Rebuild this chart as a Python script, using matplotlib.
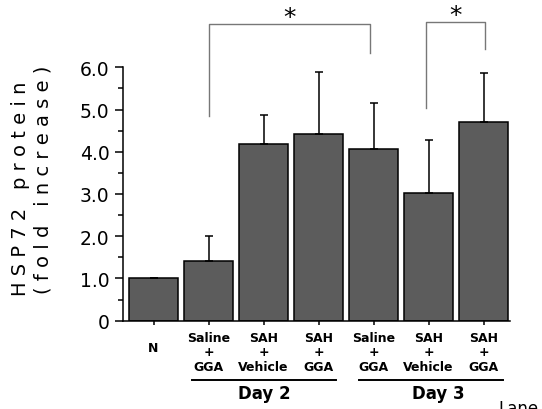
import numpy as np
import matplotlib.pyplot as plt

# data
groups = ['N', 'Saline\n+\nGGA', 'SAH\n+\nVehicle', 'SAH\n+\nGGA',
          'Saline\n+\nGGA', 'SAH\n+\nVehicle', 'SAH\n+\nGGA']
means = [1.0, 1.42, 4.18, 4.43, 4.06, 3.03, 4.71]
upper = [1.0, 2.0, 4.87, 5.90, 5.15, 4.27, 5.86]
yticks = [0, 1, 2, 3, 4, 5, 6]
ytick_labels = ['0', '1.0', '2.0', '3.0', '4.0', '5.0', '6.0']

# significance brackets: (x left, x right, left foot, right foot, top)
brackets = [(1.0, 3.94, 4.84, 6.34, 7.03),
            (4.95, 6.03, 5.03, 6.43, 7.08)]

# day groups: (label, line start, line end, label x)
days = [('Day 2', 0.69, 3.31, 2.02),
        ('Day 3', 3.74, 6.36, 5.17)]

x = np.arange(len(means))
err = np.array(upper) - np.array(means)

fig = plt.figure(figsize=(5.42, 4.10), dpi=100)
ax = fig.add_axes([0.2275, 0.2154, 0.941 - 0.2275, 0.8334 - 0.2154])

ax.bar(x, means, width=0.885, color='#5c5c5c', edgecolor='black', linewidth=1.1,
       yerr=[np.zeros(len(err)), err], capsize=3, error_kw=dict(elinewidth=1.1, capthick=1.1, ecolor='black'))

ax.set_xlim(-0.55, 6.48)
ax.set_ylim(0, 6)
ax.spines['top'].set_visible(False)
ax.spines['right'].set_visible(False)
ax.spines['left'].set_linewidth(1.1)
ax.spines['bottom'].set_linewidth(1.1)

ax.set_yticks(yticks)
ax.set_yticklabels(ytick_labels, fontsize=13.5)
ax.set_yticks(np.arange(0.5, 6, 1.0), minor=True)
ax.tick_params(axis='y', which='major', length=6, width=1.1, pad=4)
ax.tick_params(axis='y', which='minor', length=3.5, width=1.1)
ax.set_xticks(x)
ax.set_xticklabels([])
ax.tick_params(axis='x', length=3, width=1.1)

# category labels under bars
tr = ax.get_xaxis_transform()
for i, g in enumerate(groups):
    yy = -0.104 if g == 'N' else -0.1235
    ax.text(x[i], yy, g, transform=tr, ha='center', va='center',
            fontsize=9, fontweight='bold', linespacing=1.15)

for label, x0, x1, xt in days:
    ax.plot([x0, x1], [-0.234, -0.234], transform=tr, color='black', lw=1.4, clip_on=False)
    ax.text(xt, -0.285, label, transform=tr, ha='center', va='center',
            fontsize=12, fontweight='bold')

# brackets with asterisks
for xl, xr, yl, yr, top in brackets:
    ax.plot([xl, xl, xr, xr], [yl, top, top, yr], color='#777777', lw=1.0, clip_on=False)
    ax.text((xl + xr) / 2, top - 0.01, '*', ha='center', va='baseline', fontsize=18, clip_on=False)

# y axis label, letter spaced
fig.text(0.037, 1 - 189 / 410, 'H S P 7 2   p r o t e i n', rotation=90,
         ha='center', va='center', fontsize=14)
fig.text(0.080, 1 - 180 / 410, '( f o l d   i n c r e a s e )', rotation=90,
         ha='center', va='center', fontsize=14)

fig.text(0.919, 0.024, 'Lane', ha='left', va='top', fontsize=12)

fig.savefig('out.png', dpi=100)
